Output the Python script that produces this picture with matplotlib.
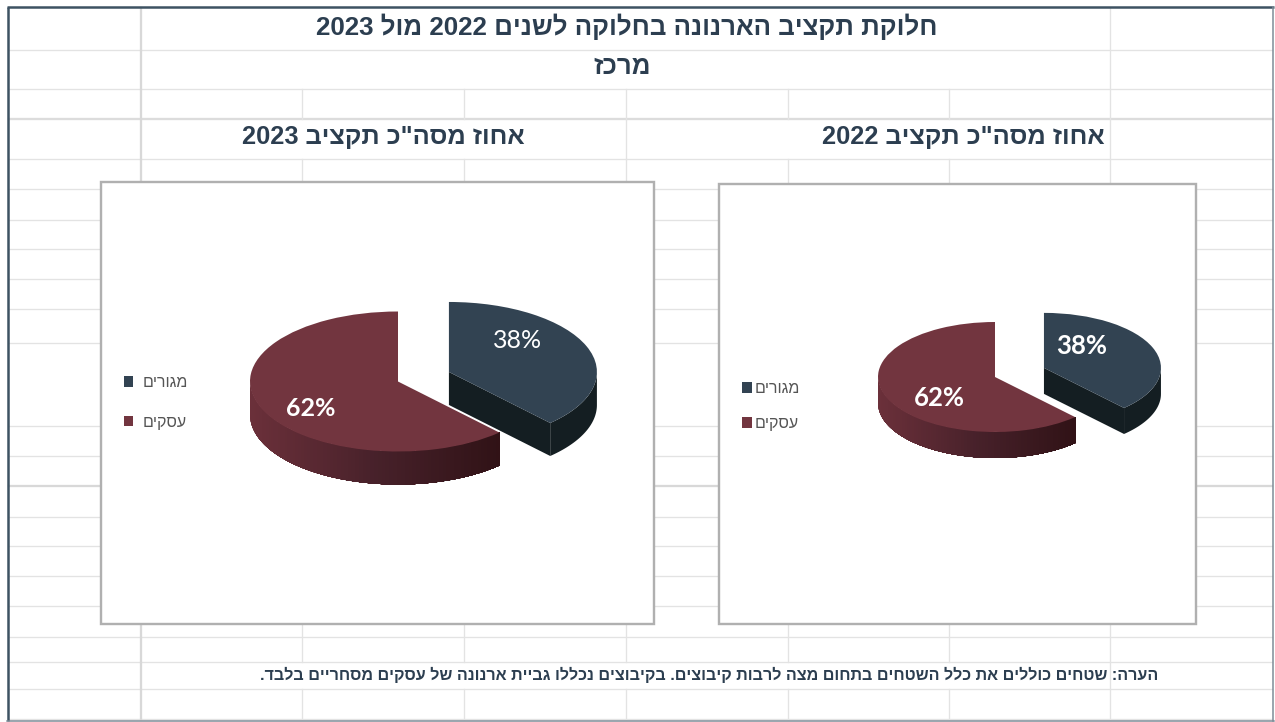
import re
import numpy as np
import matplotlib
matplotlib.use("Agg")
import matplotlib.pyplot as plt
from matplotlib.patches import Rectangle
from matplotlib.colors import to_rgb

# ---- data ----
categories = ["מגורים", "עסקים"]
share_2022 = [38, 62]
share_2023 = [38, 62]
title_main = "חלוקת תקציב הארנונה בחלוקה לשנים 2022 מול 2023"
title_sub = "מרכז"
head_2022 = 'אחוז מסה"כ תקציב 2022'
head_2023 = 'אחוז מסה"כ תקציב 2023'
note_text = "הערה: שטחים כוללים את כלל השטחים בתחום מצה לרבות קיבוצים. בקיבוצים נכללו גביית ארנונה של עסקים מסחריים בלבד."

# ---- style ----
TOP = ["#324352", "#72353f"]
W, H = 1275, 722
INK = "#2c3e50"
GRID = "#e3e3e3"
FONT = ["Liberation Sans", "DejaVu Sans"]


def visual(s):
    """matplotlib has no bidi layout: put right-to-left text in display order."""
    return re.sub(r"\d+", lambda m: m.group()[::-1], s[::-1])


def px(n):
    return n * 72 / 100


fig = plt.figure(figsize=(W / 100, H / 100), dpi=100, facecolor="white")
bg = fig.add_axes([0, 0, 1, 1], zorder=0)
bg.set_xlim(0, W)
bg.set_ylim(H, 0)
bg.axis("off")

# sheet grid
full_rows = [50, 89, 159, 637, 662, 689, 719]
for y in full_rows:
    bg.plot([9, 1272], [y, y], color=GRID, lw=px(1.3), zorder=1)
bg.plot([9, 1272], [119, 119], color="#dcdcdc", lw=px(2.3), zorder=1)
for y in [189, 220, 249, 279, 309, 343, 426, 456, 517, 546, 576, 606]:
    bg.plot([9, 1272], [y, y], color=GRID, lw=px(1.3), zorder=1)
bg.plot([9, 1272], [486, 486], color="#d8d8d8", lw=px(2.3), zorder=1)
for x in [302, 464, 626, 788, 949]:
    for y0, y1 in [(89, 119), (159, 182), (624, 662), (689, 719)]:
        bg.plot([x, x], [y0, y1], color=GRID, lw=px(1.3), zorder=1)
bg.plot([626, 626], [119, 159], color=GRID, lw=px(1.3), zorder=1)
bg.plot([1110, 1110], [8, 182], color=GRID, lw=px(1.3), zorder=1)
bg.plot([1110, 1110], [624, 719], color=GRID, lw=px(1.3), zorder=1)
bg.plot([141, 141], [8, 182], color="#d8d8d8", lw=px(2.3), zorder=1)
bg.plot([141, 141], [624, 719], color="#d8d8d8", lw=px(2.3), zorder=1)

# sheet frame
bg.plot([8, 8], [7, 721], color="#3d5262", lw=px(2.5), zorder=5, solid_capstyle="butt")
bg.plot([7, 1274], [7, 7], color="#3d5262", lw=px(2.5), zorder=5, solid_capstyle="butt")
bg.plot([1273, 1273], [7, 721], color="#7b8a95", lw=px(1.5), zorder=5)
bg.plot([7, 1274], [721, 721], color="#7b8a95", lw=px(1.5), zorder=5)

# chart boxes
for x0, y0, x1, y1 in [(101, 182, 654, 624), (719, 184, 1196, 624)]:
    bg.add_patch(Rectangle((x0, y0), x1 - x0, y1 - y0, fc="white", ec="#b0b0b0",
                           lw=px(2.4), zorder=3))

# headings
bg.text(937, 27, visual(title_main), ha="right", va="center", color=INK,
        family=FONT, weight="bold", fontsize=18.6, zorder=4)
bg.text(622, 67, visual(title_sub), ha="center", va="center", color=INK,
        family=FONT, weight="bold", fontsize=18.6, zorder=4)
bg.text(525, 137, visual(head_2023), ha="right", va="center", color=INK,
        family=FONT, weight="bold", fontsize=18.3, zorder=4)
bg.text(1105, 137, visual(head_2022), ha="right", va="center", color=INK,
        family=FONT, weight="bold", fontsize=18.3, zorder=4)
bg.text(1158, 675, visual(note_text), ha="right", va="center", color=INK,
        family=FONT, weight="bold", fontsize=11.65, zorder=4)


def mix(a, b, t):
    a, b = np.array(to_rgb(a)), np.array(to_rgb(b))
    return tuple(a + (b - a) * t)


def draw_pie(values, cx, cy, rx, ry, depth, burst, label_xy, label_weights, label_size,
             legend_xy, legend_pad, legend_gap):
    L = 2.6
    ax = fig.add_axes([(cx - L * rx) / W, 1 - (cy + L * ry) / H,
                       2 * L * rx / W, 2 * L * ry / H], zorder=2)
    wedges, _, autos = ax.pie(values, explode=[burst, 0], startangle=90,
                              counterclock=False, colors=TOP, autopct="%d%%",
                              wedgeprops={"lw": 0, "zorder": 4},
                              textprops={"zorder": 6})
    ax.set_aspect("auto")
    ax.set_xlim(-L, L)
    ax.set_ylim(-L, L)
    ax.patch.set_alpha(0)
    d = depth / ry

    # wall of the detached slice, including its front cut face
    blue = wedges[0]
    bx, by = blue.center
    a = np.radians(np.linspace(blue.theta1, 0, 40))
    xs = bx + np.cos(a)
    ys = by + np.sin(a)
    ax.fill(np.r_[xs, xs[::-1]], np.r_[ys, ys[::-1] - d], color="#141e22", lw=0, zorder=2)
    ex, ey = bx + np.cos(a[0]), by + np.sin(a[0])
    ax.fill([bx, ex, ex, bx], [by, ey, ey - d, by - d], color="#141e22", lw=0, zorder=2)

    # shaded wall of the main slice: later strips overlap earlier ones, so no seams
    red = wedges[1]
    rcx, rcy = red.center
    edges = np.linspace(-180, red.theta2, 90)
    for t0 in edges[:-1]:
        aa = np.radians(np.linspace(t0, red.theta2, 60))
        xs = rcx + np.cos(aa)
        ys = rcy + np.sin(aa)
        pos = (xs[0] + 1) / (1 + np.cos(np.radians(red.theta2)))
        col = mix("#6b303a", "#47212a", pos / 0.5) if pos < 0.5 else mix("#47212a", "#301216", (pos - 0.5) / 0.5)
        ax.fill(np.r_[xs, xs[::-1]], np.r_[ys, ys[::-1] - d], fc=col, lw=0, zorder=2)

    for t, xy, w in zip(autos, label_xy, label_weights):
        t.set_transform(bg.transData)
        t.set_position(xy)
        t.set_clip_on(False)
        t.set(color="white", family=["Lato", "DejaVu Sans"], fontsize=label_size, weight=w,
              ha="center", va="center")

    ax.legend(wedges, [visual(c) for c in categories], loc="upper left",
              bbox_to_anchor=legend_xy, bbox_transform=bg.transData,
              frameon=False, borderpad=0, borderaxespad=0,
              handlelength=0.62, handleheight=0.62,
              handletextpad=legend_pad, labelspacing=legend_gap,
              labelcolor="#555555", prop={"family": FONT, "size": 11.5})
    return ax


draw_pie(share_2023, 398, 381.5, 148, 70, 33, 0.37,
         [(518, 341), (311, 408)], ["normal", "bold"], 18, (123.5, 375), 0.56, 1.55)
draw_pie(share_2022, 995, 377, 117, 55, 26, 0.45,
         [(1082, 346), (939, 398)], ["bold", "bold"], 18.5, (742, 381), 0.19, 1.25)

fig.savefig("out.png", dpi=100, facecolor="white")
